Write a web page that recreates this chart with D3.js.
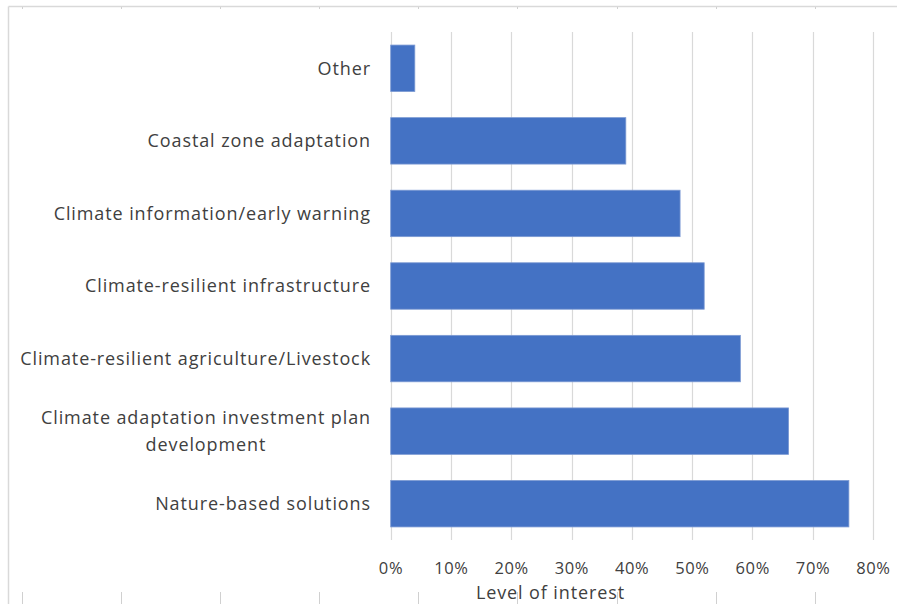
<!DOCTYPE html>
<html><head><meta charset="utf-8">
<script src="https://cdn.jsdelivr.net/npm/d3@7"></script>
<style>body{margin:0;background:#fff}svg{display:block}</style>
</head><body>
<svg id="c" width="897" height="604"></svg>
<script>
const categories = ["Other","Coastal zone adaptation","Climate information/early warning","Climate-resilient infrastructure","Climate-resilient agriculture/Livestock","Climate adaptation investment plan development","Nature-based solutions"];
const labelLines = [["Other"],["Coastal zone adaptation"],["Climate information/early warning"],["Climate-resilient infrastructure"],["Climate-resilient agriculture/Livestock"],["Climate adaptation investment plan","development"],["Nature-based solutions"]];
const values = [0.04,0.39,0.48,0.52,0.58,0.66,0.76];
const xTicks = [0,0.1,0.2,0.3,0.4,0.5,0.6,0.7,0.8];
const cellCols = [22,121,220,319,418,517,617,716,815];
const axisTitle = "Level of interest";

const svg = d3.select("#c");
const font = "Open Sans, sans-serif";
const txt = "#404040";

// outer chart border (spreadsheet style)
svg.append("line").attr("x1",8.5).attr("x2",897).attr("y1",6.5).attr("y2",6.5).attr("stroke","#d9d9d9").attr("stroke-width",1.5);
svg.append("line").attr("x1",8.5).attr("x2",8.5).attr("y1",6.5).attr("y2",604).attr("stroke","#d9d9d9").attr("stroke-width",1.5);
cellCols.forEach(c=>{
  svg.append("line").attr("x1",c+0.5).attr("x2",c+0.5).attr("y1",7).attr("y2",9).attr("stroke","#d0d0d0");
  svg.append("line").attr("x1",c+0.5).attr("x2",c+0.5).attr("y1",592).attr("y2",604).attr("stroke","#d0d0d0");
});

const x = d3.scaleLinear().domain([0,0.8]).range([390.7,873]);
const y = d3.scaleBand().domain(categories).range([32,540]).paddingInner(0.36).paddingOuter(0.18);

// gridlines
svg.append("g").selectAll("line").data(xTicks).join("line")
  .attr("x1",d=>Math.round(x(d))+0.5).attr("x2",d=>Math.round(x(d))+0.5)
  .attr("y1",32).attr("y2",540).attr("stroke","#d9d9d9").attr("stroke-width",1.2);

// bars
svg.append("g").selectAll("rect").data(values).join("rect")
  .attr("x",x(0)).attr("y",(d,i)=>y(categories[i]))
  .attr("width",d=>x(d)-x(0)).attr("height",y.bandwidth())
  .attr("fill","#4472c4").attr("stroke","#7c9ad3").attr("stroke-width",0.8);

// category labels (multi-line labels centred on their widest line, right-aligned block)
const lg = svg.append("g").attr("font-family",font).attr("font-size",18).attr("letter-spacing","0.9px").attr("fill",txt);
labelLines.forEach((lines,i)=>{
  const cy = y(categories[i]) + y.bandwidth()/2;
  const n = lines.length, lh = 27;
  const nodes = lines.map((l,j)=> lg.append("text").attr("y",cy + (j-(n-1)/2)*lh).attr("dy","0.35em").text(l));
  if (n === 1) {
    nodes[0].attr("x",371).attr("text-anchor","end");
  } else {
    const w = d3.max(nodes, t => t.node().getComputedTextLength());
    nodes.forEach(t => t.attr("x", 371 - w/2).attr("text-anchor","middle"));
  }
});

// x tick labels
svg.append("g").attr("font-family",font).attr("font-size",16.5).attr("letter-spacing","0.6px").attr("fill",txt)
  .selectAll("text").data(xTicks).join("text")
  .attr("x",d=>x(d)+0.3).attr("y",568).attr("dy","0.35em").attr("text-anchor","middle")
  .text(d=>d3.format(".0%")(d));

svg.append("text").attr("x",550.5).attr("y",593).attr("dy","0.35em").attr("text-anchor","middle")
  .attr("font-family",font).attr("font-size",18).attr("letter-spacing","0.9px").attr("fill",txt).text(axisTitle);
</script>
</body></html>
